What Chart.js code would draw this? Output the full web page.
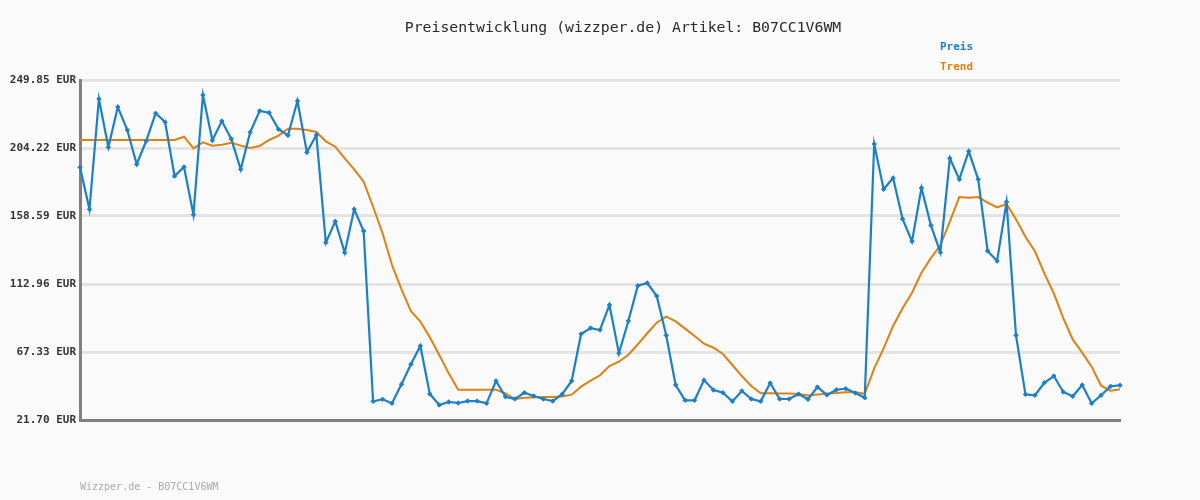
<!DOCTYPE html>
<html>
<head>
<meta charset="utf-8">
<script src="https://cdn.jsdelivr.net/npm/chart.js@4.4.1/dist/chart.umd.min.js"></script>
<style>
  html, body { margin: 0; padding: 0; background: #fafafa; }
  #wrap { width: 1200px; height: 500px; }
</style>
</head>
<body>
<div id="wrap"><canvas id="chart" width="1200" height="500"></canvas></div>
<script>
// Preis values (111 points)
const preis = [
    191.3, 163.1, 237.1, 204.7, 231.7, 216.3, 193.3, 208.9, 227.5, 221.7,
    185.4, 191.5, 159.5, 239.8, 209.4, 222.3, 210.3, 189.9, 214.8, 229.1,
    227.9, 216.8, 212.7, 235.8, 201.3, 212.9, 140.7, 155.0, 134.0, 163.1,
    148.5, 34.2, 35.6, 32.9, 45.7, 59.1, 71.4, 39.1, 31.8, 33.8,
    33.1, 34.4, 34.4, 32.9, 47.9, 37.3, 35.8, 40.0, 37.8, 35.8,
    34.4, 39.0, 47.9, 79.4, 83.4, 82.1, 98.9, 66.5, 88.1, 111.8,
    113.6, 104.9, 78.5, 45.2, 34.9, 34.9, 48.5, 41.8, 40.0, 34.2,
    41.2, 35.8, 34.2, 46.5, 35.8, 35.8, 39.1, 35.6, 43.8, 38.5,
    42.0, 42.7, 39.8, 36.6, 206.9, 176.5, 184.1, 156.6, 141.6, 177.4,
    152.3, 134.2, 197.3, 183.2, 202.0, 183.2, 135.1, 128.4, 168.0, 78.5,
    38.9, 38.3, 46.7, 51.2, 40.5, 37.6, 45.2, 32.9, 38.3, 44.3,
    45.0
];

// Trend values
const trend = [
    209.6, 209.6, 209.6, 209.6, 209.6, 209.6, 209.6, 209.6, 209.6, 209.6,
    209.6, 211.8, 204.0, 208.0, 205.8, 206.4, 207.8, 205.8, 204.2, 205.6,
    209.6, 212.5, 217.2, 217.2, 216.3, 215.0, 208.7, 205.1, 197.3, 189.9,
    181.6, 164.8, 147.0, 125.7, 109.4, 94.8, 87.7, 77.2, 65.3, 53.0,
    42.0, 42.0, 42.0, 42.0, 42.0, 39.6, 35.8, 36.7, 37.0, 37.1,
    37.2, 37.5, 38.7, 44.1, 48.1, 51.7, 57.9, 60.8, 65.5, 72.5,
    79.9, 87.0, 91.0, 87.9, 83.0, 78.1, 72.9, 70.2, 66.0, 58.6,
    51.2, 44.5, 39.6, 39.6, 39.5, 39.4, 39.2, 38.2, 38.8, 39.3,
    39.8, 40.3, 40.3, 39.3, 56.4, 69.8, 84.8, 96.7, 107.1, 120.5,
    130.4, 138.9, 154.8, 171.3, 170.9, 171.3, 167.5, 164.4, 166.6, 156.4,
    144.7, 134.9, 120.1, 106.7, 90.1, 75.8, 66.9, 57.5, 44.7, 41.4,
    42.3
];

// y axis tick values
const tickValues = [21.70, 67.33, 112.96, 158.59, 204.22, 249.85];

const labels = preis.map((_, i) => String(i + 1));

const blue = '#1c80c9';
const orange = '#e0800f';
const monoFont = '"DejaVu Sans Mono", "Liberation Mono", monospace';

// background, title, legend texts and footer
const decorPlugin = {
    id: 'decor',
    beforeDraw(chart) {
        const ctx = chart.ctx;
        ctx.save();
        ctx.fillStyle = '#fafafa';
        ctx.fillRect(0, 0, chart.width, chart.height);
        ctx.restore();
    },
    afterDraw(chart) {
        const ctx = chart.ctx;
        ctx.save();
        ctx.textBaseline = 'middle';
        ctx.textAlign = 'center';
        ctx.fillStyle = '#2a2a2a';
        ctx.font = '14.8px ' + monoFont;
        ctx.fillText('Preisentwicklung (wizzper.de) Artikel: B07CC1V6WM', 623, 28);

        ctx.textAlign = 'left';
        ctx.font = 'bold 11px ' + monoFont;
        ctx.fillStyle = blue;
        ctx.fillText('Preis', 940, 47);
        ctx.fillStyle = orange;
        ctx.fillText('Trend', 940, 67);

        ctx.font = '10px ' + monoFont;
        ctx.fillStyle = '#aaaaaa';
        ctx.fillText('Wizzper.de - B07CC1V6WM', 80, 487);
        ctx.restore();
    }
};

new Chart(document.getElementById('chart'), {
    type: 'line',
    data: {
        labels: labels,
        datasets: [{
            label: 'Preis',
            data: preis,
            borderColor: blue,
            backgroundColor: blue,
            borderWidth: 2.2,
            pointStyle: 'rectRot',
            pointRadius: 2.2,
            pointBorderWidth: 1,
            tension: 0,
            order: 1
        }, {
            label: 'Trend',
            data: trend,
            borderColor: orange,
            backgroundColor: orange,
            borderWidth: 2,
            pointRadius: 0,
            tension: 0,
            order: 2
        }]
    },
    options: {
        responsive: false,
        animation: false,
        layout: {
            padding: { left: 0, right: 80, top: 80, bottom: 80 }
        },
        plugins: {
            legend: { display: false },
            title: { display: false },
            tooltip: { enabled: false }
        },
        scales: {
            x: {
                type: 'category',
                offset: false,
                grid: { display: false, drawTicks: false },
                ticks: { display: false },
                border: { color: '#808080', width: 3 },
                afterFit: (scale) => { scale.height = 0; }
            },
            y: {
                min: 21.70,
                max: 249.85,
                afterBuildTicks: (scale) => {
                    scale.ticks = tickValues.map(v => ({ value: v }));
                },
                afterFit: (scale) => { scale.width = 80; },
                grid: {
                    color: '#e4e4e4',
                    lineWidth: 3,
                    drawTicks: false
                },
                border: { color: '#808080', width: 3 },
                ticks: {
                    padding: 4,
                    color: '#333',
                    font: { family: monoFont, size: 11, weight: 'bold' },
                    callback: (v) => Number(v).toFixed(2) + ' EUR'
                }
            }
        }
    },
    plugins: [decorPlugin]
});
</script>
</body>
</html>
